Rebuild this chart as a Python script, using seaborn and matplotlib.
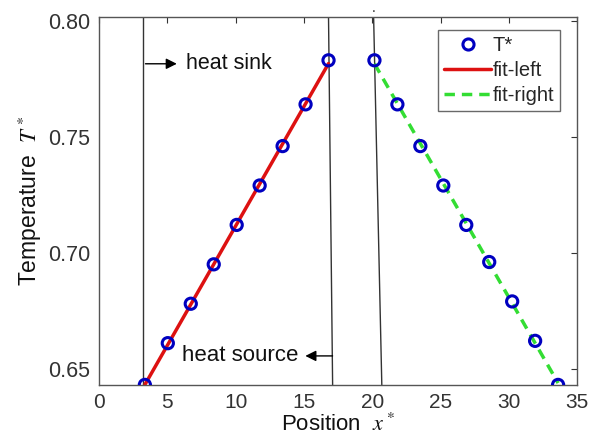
import numpy as np
import pandas as pd
import seaborn as sns
from matplotlib import pyplot as plt
from matplotlib.lines import Line2D

# measured temperature profile
x_left = [3.36, 5.04, 6.72, 8.40, 10.08, 11.76, 13.44, 15.12, 16.80]
t_left = [0.643, 0.661, 0.678, 0.695, 0.712, 0.729, 0.746, 0.764, 0.783]
x_right = [20.16, 21.84, 23.52, 25.20, 26.88, 28.56, 30.24, 31.92, 33.60]
t_right = [0.783, 0.764, 0.746, 0.729, 0.712, 0.696, 0.679, 0.662, 0.643]

# hand-drawn boundary lines (x at bottom, x at top)
walls = [(3.2, 3.2), (17.1, 16.8), (20.7, 20.1)]

sns.set_style('white')
plt.rcParams['mathtext.fontset'] = 'stix'
plt.rcParams['font.family'] = ['Liberation Sans', 'DejaVu Sans']

df = pd.DataFrame({'x': x_left + x_right, 'T': t_left + t_right})

fig = plt.figure(figsize=(5.89, 4.46), dpi=100)
ax = fig.add_axes([0.168, 0.137, 0.812, 0.825])

ylo, yhi = 0.643, 0.8017
for xb, xt in walls:
    ax.plot([xb, xt], [ylo, yhi], color='#333333', lw=1.0, zorder=1)

# linear fits
pl = np.polyfit(x_left, t_left, 1)
pr = np.polyfit(x_right, t_right, 1)
fl = pd.DataFrame({'x': [x_left[0], x_left[-1]]})
fl['T'] = np.polyval(pl, fl['x'])
fr = pd.DataFrame({'x': [x_right[0], x_right[-1]]})
fr['T'] = np.polyval(pr, fr['x'])

sns.lineplot(data=fl, x='x', y='T', ax=ax, color='#dd1111', lw=2.5, zorder=2)
sns.lineplot(data=fr, x='x', y='T', ax=ax, color='#33dd33', lw=2.5,
             linestyle=(0, (3, 2)), zorder=2)
sns.scatterplot(data=df, x='x', y='T', ax=ax, marker='o', s=65,
                facecolors='none', edgecolor='#0000c0', linewidth=2.2, zorder=3)

ax.annotate('', xy=(5.9, 0.7815), xytext=(3.2, 0.7815),
            arrowprops=dict(arrowstyle='-|>', color='black', lw=1, mutation_scale=16))
ax.text(6.4, 0.7815, 'heat sink', fontsize=15.5, va='center', ha='left', color='#111111')
ax.annotate('', xy=(14.9, 0.6555), xytext=(17.3, 0.6555),
            arrowprops=dict(arrowstyle='-|>', color='black', lw=1, mutation_scale=16))
ax.text(14.6, 0.6555, 'heat source', fontsize=16, va='center', ha='right', color='#111111')
ax.text(20.1, 0.8025, '.', fontsize=10, ha='center', va='bottom')

ax.set_xlim(0, 35)
ax.set_ylim(ylo, yhi)
ax.set_xticks(range(0, 36, 5))
ax.set_yticks([0.65, 0.70, 0.75, 0.80])
ax.set_yticklabels(['0.65', '0.70', '0.75', '0.80'])
ax.tick_params(direction='in', length=4, width=0.8, top=True, right=True,
               labelsize=15.5, colors='#333333')
ax.tick_params(axis='x', pad=6, labelsize=15)
ax.tick_params(axis='y', pad=6)
for s in ax.spines.values():
    s.set_color('#555555')
    s.set_linewidth(1.0)

ax.set_xlabel('Position  $x^*$', fontsize=16, labelpad=1, color='#111111')
ax.set_ylabel('Temperature  $T^*$', fontsize=16.5, labelpad=3, color='#111111')

handles = [
    Line2D([], [], marker='o', ls='none', mfc='none', mec='#0000c0', mew=2.2, ms=8),
    Line2D([], [], color='#dd1111', lw=2.5),
    Line2D([], [], color='#33dd33', lw=2.5, ls=(0, (3, 2))),
]
leg = ax.legend(handles, ['T*', 'fit-left', 'fit-right'], loc='upper right',
                bbox_to_anchor=(0.965, 0.965), fontsize=14.5, frameon=True,
                fancybox=False, edgecolor='#444444', borderpad=0.3,
                handlelength=2.3, handletextpad=0.1, labelspacing=0.3,
                borderaxespad=0)
leg.get_frame().set_linewidth(1.0)

fig.savefig('out.png', dpi=100)
